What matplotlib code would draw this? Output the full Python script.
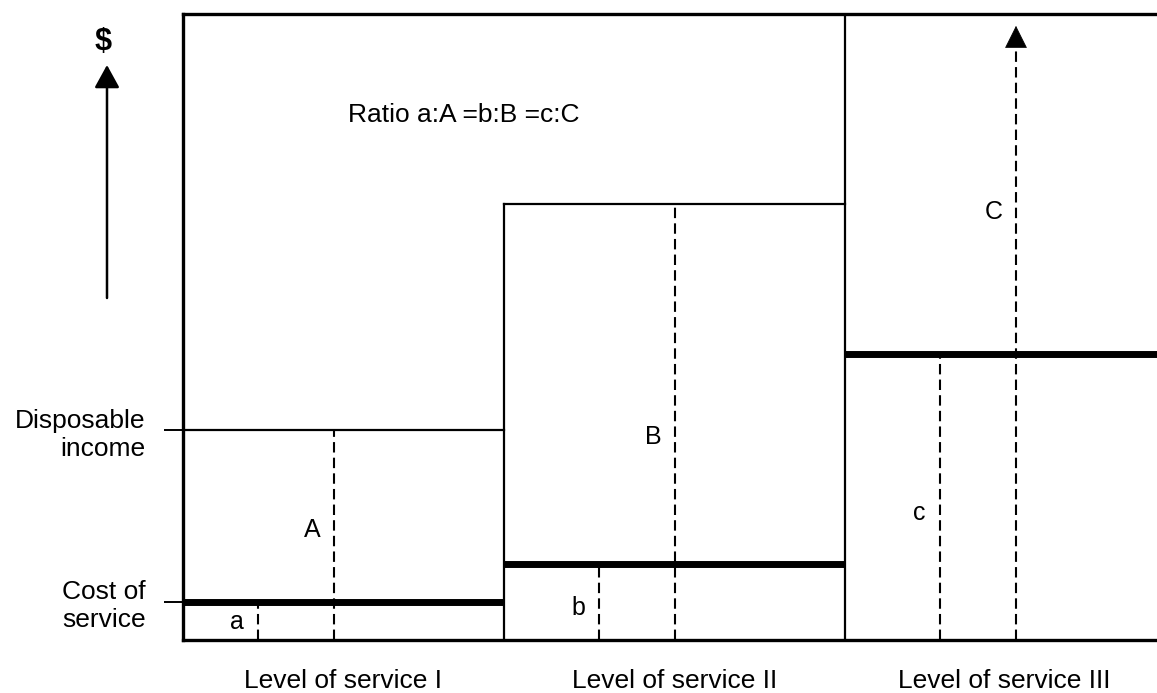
import matplotlib.pyplot as plt

plt.rcParams['font.family'] = ['Liberation Sans', 'DejaVu Sans']

# schematic values (y: 0 = bottom of frame, 100 = top of frame)
levels = ['Level of service I', 'Level of service II', 'Level of service III']
level_edges = [0, 321, 662, 980]
cost = [6.1, 12.1, 45.7]
income = [33.5, 69.6, 250.0]          # level III income runs off the top
small_offset = [75, 95, 95]           # dashed line for a, b, c
big_offset = [151, 171, 171]          # dashed line for A, B, C
small_names = ['a', 'b', 'c']
big_names = ['A', 'B', 'C']
small_label_y = [2.9, 5.1, 20.3]
big_label_y = [17.6, 32.4, 68.4]
y_top = 100
arrow_tip = 98.1

fig = plt.figure(figsize=(11.57, 6.93), dpi=100)
ax = fig.add_axes([183 / 1157, 53 / 693, (1157 - 183) / 1157, 626 / 693])
ax.set_xlim(0, 974)
ax.set_ylim(0, y_top)

for side in ['left', 'top', 'bottom']:
    ax.spines[side].set_linewidth(2.4)
ax.spines['right'].set_visible(False)

dash = (0, (5, 2.5))

for i in range(3):
    x0, x1 = level_edges[i], level_edges[i + 1]
    # boundary between levels
    if i > 0:
        ax.plot([x0, x0], [0, min(max(income[i - 1], income[i]), y_top)],
                color='black', lw=1.6)
    # disposable income (thin) and cost of service (thick)
    if income[i] < y_top:
        ax.plot([x0, x1], [income[i], income[i]], color='black', lw=1.6)
    ax.plot([x0, x1], [cost[i], cost[i]], color='black', lw=5,
            solid_capstyle='butt')

    xs = x0 + small_offset[i]
    xb = x0 + big_offset[i]
    ax.plot([xs, xs], [0, cost[i]], color='black', lw=1.5, linestyle=dash)
    top = income[i] if income[i] < y_top else 95.8
    ax.plot([xb, xb], [0, top], color='black', lw=1.5, linestyle=dash)
    if income[i] >= y_top:
        ax.annotate('', xy=(xb, arrow_tip), xytext=(xb, 95.5),
                    arrowprops=dict(arrowstyle='-|>,head_length=1.0,head_width=0.5',
                                    color='black', lw=0.5, mutation_scale=15,
                                    shrinkA=0, shrinkB=0))

    ax.text(xs - 14, small_label_y[i], small_names[i], ha='right', va='center',
            fontsize=18)
    ax.text(xb - 13, big_label_y[i], big_names[i], ha='right', va='center',
            fontsize=18)

ax.text(165, 83.9, 'Ratio a:A =b:B =c:C', ha='left', va='center', fontsize=19)

ax.set_yticks([cost[0], income[0]])
ax.set_yticklabels(['Cost of\nservice', 'Disposable\nincome'], fontsize=19)
ax.tick_params(axis='y', length=14, width=1.4, pad=13)

centers = [(level_edges[i] + level_edges[i + 1]) / 2 for i in range(3)]
ax.set_xticks(centers)
ax.set_xticklabels(levels, fontsize=19)
ax.tick_params(axis='x', length=0, pad=21)

# $ axis arrow on the left
fig.text(103 / 1157, 1 - 42 / 693, '$', ha='center', va='center',
         fontsize=22, fontweight='bold')
ax.annotate('', xy=(107, 693 - 65), xytext=(107, 693 - 298),
            xycoords='figure pixels', textcoords='figure pixels',
            arrowprops=dict(arrowstyle='-|>,head_length=1.0,head_width=0.55',
                            color='black', lw=1.8, mutation_scale=14,
                            shrinkA=0, shrinkB=0))

fig.savefig('out.png', dpi=100)
